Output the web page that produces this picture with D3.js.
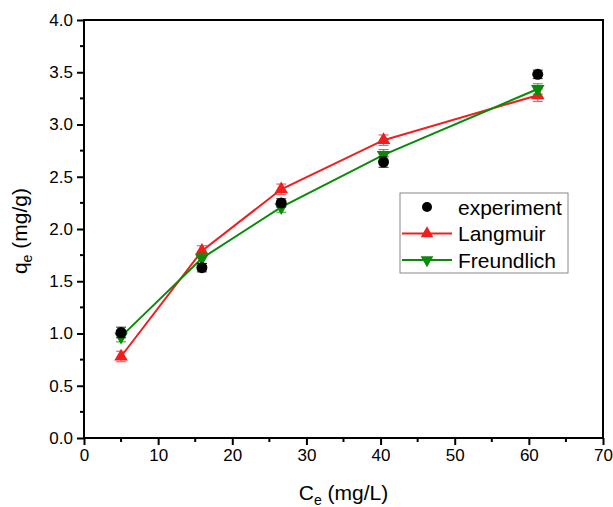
<!DOCTYPE html>
<html>
<head>
<meta charset="utf-8">
<script src="https://cdn.jsdelivr.net/npm/d3@7"></script>
<style>
  body { margin: 0; background: #fff; }
  text { font-family: "Liberation Sans", Arial, sans-serif; fill: #000; }
</style>
</head>
<body>
<svg width="613" height="507"></svg>
<script>
// concentrations and fitted / measured uptake
var ce = [5.0, 15.9, 26.6, 40.4, 61.2];
var experiment = [1.01, 1.63, 2.25, 2.64, 3.48];
var experimentErr = [0.05, 0.04, 0.04, 0.05, 0.04];
var langmuir = [0.78, 1.79, 2.38, 2.85, 3.28];
var langmuirErr = [0.05, 0.05, 0.05, 0.05, 0.06];
var freundlich = [0.97, 1.72, 2.21, 2.71, 3.34];
var freundlichErr = [0.05, 0.05, 0.05, 0.05, 0.05];
var xTicks = [0, 10, 20, 30, 40, 50, 60, 70];
var yTicks = [0.0, 0.5, 1.0, 1.5, 2.0, 2.5, 3.0, 3.5, 4.0];

var red = "#f01e1e", green = "#0a8a0a";

var svg = d3.select("svg");
var pLeft = 84, pRight = 603, pTop = 20, pBottom = 438;

var x = d3.scaleLinear().domain([0, 70]).range([pLeft, pRight]);
var y = d3.scaleLinear().domain([0, 4]).range([pBottom, pTop]);

// minor ticks
var minor = svg.append("g");
d3.range(5, 70, 10).forEach(function(v) {
    minor.append("line").attr("x1", x(v)).attr("x2", x(v))
        .attr("y1", pBottom).attr("y2", pBottom + 4)
        .attr("stroke", "#000").attr("stroke-width", 2);
});
d3.range(0.25, 4, 0.5).forEach(function(v) {
    minor.append("line").attr("y1", y(v)).attr("y2", y(v))
        .attr("x1", pLeft).attr("x2", pLeft - 4)
        .attr("stroke", "#000").attr("stroke-width", 2);
});

var xAxis = svg.append("g")
    .attr("transform", "translate(0," + pBottom + ")")
    .call(d3.axisBottom(x).tickValues(xTicks).tickSize(7).tickPadding(4).tickFormat(d3.format("d")));
var yAxis = svg.append("g")
    .attr("transform", "translate(" + pLeft + ",0)")
    .call(d3.axisLeft(y).tickValues(yTicks).tickSize(7).tickPadding(4).tickFormat(d3.format(".1f")));

[xAxis, yAxis].forEach(function(a) {
    a.select(".domain").remove();
    a.selectAll(".tick line").attr("stroke-width", 2);
    a.selectAll("text").style("font-size", "17px").style("font-family", "Liberation Sans, Arial, sans-serif");
});

// frame
svg.append("rect")
    .attr("x", pLeft).attr("y", pTop)
    .attr("width", pRight - pLeft).attr("height", pBottom - pTop)
    .attr("fill", "none").attr("stroke", "#000").attr("stroke-width", 2);

function errorBars(vals, errs, color) {
    var g = svg.append("g").attr("stroke", color).attr("stroke-width", 1.2).attr("opacity", 0.7);
    vals.forEach(function(v, i) {
        var cx = x(ce[i]);
        g.append("line").attr("x1", cx).attr("x2", cx).attr("y1", y(v - errs[i])).attr("y2", y(v + errs[i]));
        g.append("line").attr("x1", cx - 5).attr("x2", cx + 5).attr("y1", y(v - errs[i])).attr("y2", y(v - errs[i]));
        g.append("line").attr("x1", cx - 5).attr("x2", cx + 5).attr("y1", y(v + errs[i])).attr("y2", y(v + errs[i]));
    });
}

var line = d3.line().x(function(d, i) { return x(ce[i]); }).y(function(d) { return y(d); });

function series(vals, errs, color, symbol) {
    svg.append("path").datum(vals)
        .attr("d", line).attr("fill", "none")
        .attr("stroke", color).attr("stroke-width", 2);
    errorBars(vals, errs, color);
    svg.append("g").selectAll("path").data(vals).enter().append("path")
        .attr("d", d3.symbol().type(d3.symbolTriangle).size(80))
        .attr("transform", function(d, i) {
            return "translate(" + x(ce[i]) + "," + y(d) + ")" + (symbol === "down" ? " rotate(180)" : "");
        })
        .attr("fill", color);
}

series(langmuir, langmuirErr, red, "up");
series(freundlich, freundlichErr, green, "down");

errorBars(experiment, experimentErr, "#000");
svg.append("g").selectAll("circle").data(experiment).enter().append("circle")
    .attr("cx", function(d, i) { return x(ce[i]); })
    .attr("cy", function(d) { return y(d); })
    .attr("r", 5.5).attr("fill", "#000");

// legend
var lg = svg.append("g").attr("transform", "translate(400,193)");
lg.append("rect").attr("width", 168).attr("height", 80)
    .attr("fill", "#fff").attr("stroke", "#888").attr("stroke-width", 1);
var names = ["experiment", "Langmuir", "Freundlich"];
var colors = ["#000", red, green];
names.forEach(function(n, i) {
    var cy = 14 + i * 26.5;
    if (i === 0) {
        lg.append("circle").attr("cx", 27).attr("cy", cy).attr("r", 5).attr("fill", "#000");
    } else {
        lg.append("line").attr("x1", 2).attr("x2", 52).attr("y1", cy).attr("y2", cy)
            .attr("stroke", colors[i]).attr("stroke-width", 2);
        lg.append("path")
            .attr("d", d3.symbol().type(d3.symbolTriangle).size(70))
            .attr("transform", "translate(27," + cy + ")" + (i === 2 ? " rotate(180)" : ""))
            .attr("fill", colors[i]);
    }
    lg.append("text").attr("x", 58).attr("y", cy + 7.5)
        .style("font-size", "21px").text(n);
});

// axis titles
var xt = svg.append("text").attr("x", x(35)).attr("y", 500)
    .attr("text-anchor", "middle").style("font-size", "21px");
xt.append("tspan").text("C");
xt.append("tspan").attr("dy", 5).style("font-size", "14px").text("e");
xt.append("tspan").attr("dy", -5).text(" (mg/L)");

var yt = svg.append("text")
    .attr("transform", "translate(27," + y(1.98) + ") rotate(-90)")
    .attr("text-anchor", "middle").style("font-size", "21px");
yt.append("tspan").text("q");
yt.append("tspan").attr("dy", 5).style("font-size", "14px").text("e");
yt.append("tspan").attr("dy", -5).text(" (mg/g)");
</script>
</body>
</html>
